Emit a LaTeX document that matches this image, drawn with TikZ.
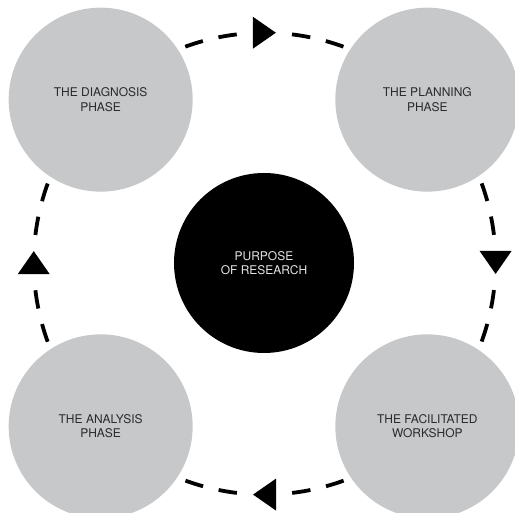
\documentclass[tikz,border=0pt]{standalone}
\usepackage{fontspec}
\setmainfont{TeX Gyre Heros}
\usetikzlibrary{calc,decorations.markings}
\definecolor{phasegray}{RGB}{199,200,202}
\definecolor{labelgray}{RGB}{42,42,42}
\definecolor{corelabel}{RGB}{228,228,228}
\begin{document}
\begin{tikzpicture}[x=1pt,y=1pt,
  labelfont/.style={font=\fontsize{12}{14.5}\selectfont},
  phase/.style={circle, fill=phasegray, minimum size=184pt, inner sep=0pt,
    outer sep=0pt, align=center, text=labelgray, labelfont},
  core/.style={circle, fill=black, minimum size=180pt, inner sep=0pt,
    outer sep=0pt, align=center, text=corelabel, labelfont},
  flow/.style={line width=3.8pt,
    dash pattern=on 0pt off 8pt on 18.5pt off 16pt on 18.5pt off 55.4pt
      on 18.5pt off 16pt on 18.5pt off 40pt,
    decoration={markings, mark=at position 0.5 with
      {\fill (11.5,0) -- (-11.5,16) -- (-11.5,-16) -- cycle;}},
    postaction={decorate}}]
  \useasboundingbox (0,0) rectangle (515,513);
  \coordinate (c) at (264,250);

  % centre and the four phases on a ring of radius 231
  \node[core] (core) at (c) {PURPOSE\\OF RESEARCH};
  \node[phase] (diag) at ($(c)+(135:231)$) {THE DIAGNOSIS\\PHASE};
  \node[phase] (plan) at ($(c)+(45:231)$) {THE PLANNING\\PHASE};
  \node[phase] (work) at ($(c)+(-45:231)$) {THE FACILITATED\\WORKSHOP};
  \node[phase] (anal) at ($(c)+(225:231)$) {THE ANALYSIS\\PHASE};

  % clockwise dashed arcs along the ring, each with a mid arrowhead
  \draw[flow] (diag.33.5) arc[start angle=112, end angle=68, radius=231];
  \draw[flow] (plan.-56.5) arc[start angle=22, end angle=-22, radius=231];
  \draw[flow] (work.-146.5) arc[start angle=-68, end angle=-112, radius=231];
  \draw[flow] (anal.123.5) arc[start angle=202, end angle=158, radius=231];
\end{tikzpicture}
\end{document}
